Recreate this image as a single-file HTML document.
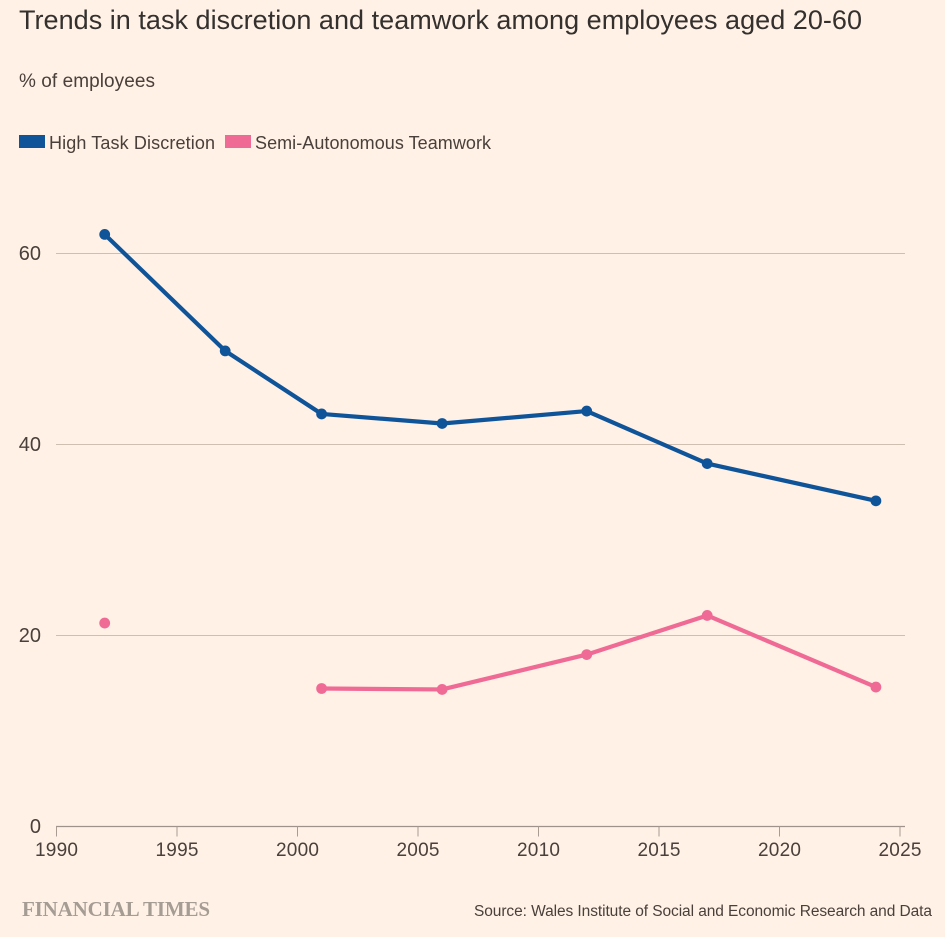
<!DOCTYPE html>
<html lang="en">
<head>
<meta charset="utf-8">
<title>Trends in task discretion and teamwork</title>
<style>
html,body{margin:0;padding:0;background:#fff1e5;width:945px;height:937px;overflow:hidden}
svg{display:block}
text{font-family:"Liberation Sans",sans-serif;fill:#4a403b}
</style>
</head>
<body>
<svg id="chart" width="945" height="937" viewBox="0 0 945 937" xmlns="http://www.w3.org/2000/svg">
<rect width="945" height="937" fill="#fff1e5"/>
<text x="19" y="29" font-size="27" textLength="843" lengthAdjust="spacing" style="fill:#33302e">Trends in task discretion and teamwork among employees aged 20-60</text>
<text x="19" y="87" font-size="19" textLength="136" lengthAdjust="spacing">% of employees</text>
<rect x="19" y="135" width="26" height="13" fill="#0f5499"/>
<text x="49" y="149" font-size="18" textLength="166" lengthAdjust="spacing">High Task Discretion</text>
<rect x="225" y="135" width="26" height="13" fill="#f06a96"/>
<text x="255" y="149" font-size="18" textLength="236" lengthAdjust="spacing">Semi-Autonomous Teamwork</text>
<g id="grid"></g>
<g id="axis"></g>
<g id="series"></g>
<text x="22" y="916" font-size="21" font-weight="700" textLength="188" lengthAdjust="spacing" style="font-family:'Liberation Serif',serif;fill:#a59c94">FINANCIAL TIMES</text>
<text x="474" y="916" font-size="15.5" textLength="458" lengthAdjust="spacing">Source: Wales Institute of Social and Economic Research and Data</text>
</svg>
<script>
const years = [1992, 1997, 2001, 2006, 2012, 2017, 2024];
const highTaskDiscretion = [62, 49.8, 43.2, 42.2, 43.5, 38, 34.1];
const semiAutonomousTeamwork = [21.3, null, 14.45, 14.35, 18, 22.1, 14.6];
const xTicks = [1990, 1995, 2000, 2005, 2010, 2015, 2020, 2025];
const yTicks = [0, 20, 40, 60];

const NS = 'http://www.w3.org/2000/svg';
const xScale = v => 56.5 + (v - 1990) * (900 - 56.5) / 35;
const yScale = v => 826.5 - v * 9.55;

function make(tag, attrs, parent, text) {
  const el = document.createElementNS(NS, tag);
  for (const k in attrs) el.setAttribute(k, attrs[k]);
  if (text !== undefined) el.textContent = text;
  parent.appendChild(el);
  return el;
}

const grid = document.getElementById('grid');
const axis = document.getElementById('axis');
const seriesLayer = document.getElementById('series');

yTicks.forEach(t => {
  const y = yScale(t);
  if (t !== 0) {
    const line = make('line', {x1: 56, x2: 905, y1: y, y2: y, stroke: '#cfbfb1', 'stroke-width': 1}, grid);
    
    
  }
  const label = make('text', {x: 41, y: y + 6.5, 'font-size': 20, 'text-anchor': 'end'}, axis, String(t));
  
  
});

const baseline = make('line', {x1: 56, x2: 905, y1: yScale(0), y2: yScale(0), stroke: '#9e928a', 'stroke-width': 1.2}, axis);



xTicks.forEach(t => {
  const x = xScale(t);
  const tick = make('line', {x1: x, x2: x, y1: yScale(0), y2: yScale(0) + 10, stroke: '#a89c93', 'stroke-width': 1}, axis);
  
  
  const label = make('text', {x: x, y: 856, 'font-size': 19, 'text-anchor': 'middle', textLength: 43, lengthAdjust: 'spacing'}, axis, String(t));
  
  
});

function drawSeries(values, color, name) {
  const group = make('g', {}, seriesLayer);
  
  
  let d = '';
  let pen = false;
  values.forEach((v, i) => {
    if (v === null) { pen = false; return; }
    const next = values[i + 1];
    const hasNext = next !== undefined && next !== null;
    if (!pen && !hasNext) return;
    d += (pen ? 'L' : 'M') + xScale(years[i]) + ' ' + yScale(v);
    pen = true;
  });
  const path = make('path', {d: d, fill: 'none', stroke: color, 'stroke-width': 4.2, 'stroke-linejoin': 'round'}, group);
  
  
  values.forEach((v, i) => {
    if (v === null) return;
    const dot = make('circle', {cx: xScale(years[i]), cy: yScale(v), r: 5.4, fill: color}, group);
    
    
  });
}

drawSeries(highTaskDiscretion, '#0f5499', 'high-task-discretion');
drawSeries(semiAutonomousTeamwork, '#f06a96', 'semi-autonomous-teamwork');
</script>
</body>
</html>
